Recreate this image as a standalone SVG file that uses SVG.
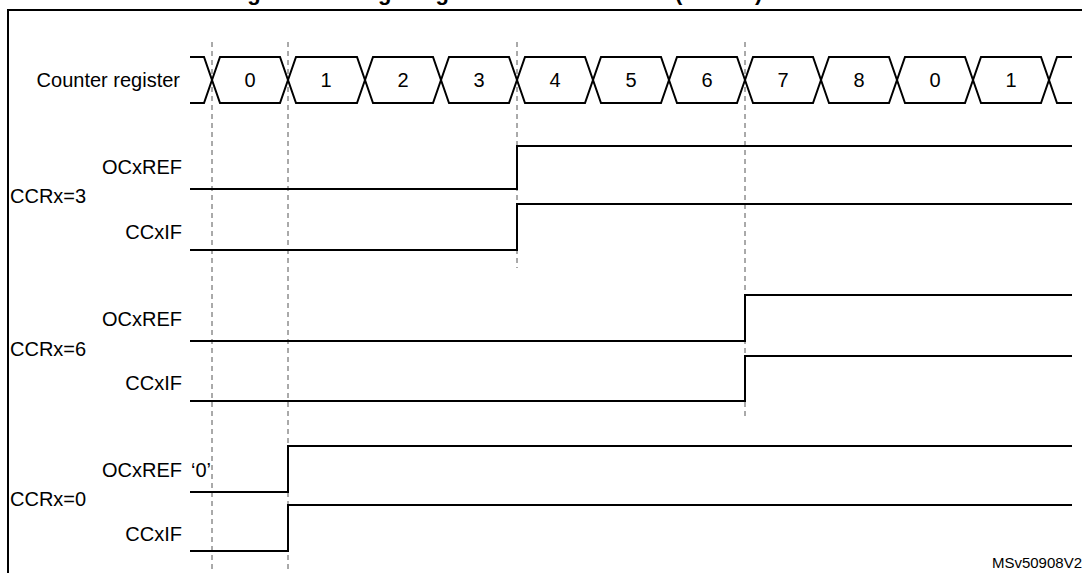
<svg xmlns="http://www.w3.org/2000/svg" width="1082" height="573" viewBox="0 0 1082 573">
<style>
text{font-family:"Liberation Sans",Arial,sans-serif;font-size:20px;fill:#000}
.r{text-anchor:end}.c{text-anchor:middle}
.s{fill:none;stroke:#000;stroke-width:2}
.d{fill:none;stroke:#555;stroke-width:1;stroke-dasharray:5,4}
</style>
<rect width="1082" height="573" fill="#fff"/>
<text x="495" y="0" class="c" style="font-weight:bold;font-size:22px">Figure 106. Edge-aligned PWM waveforms (ARR=8)</text>
<rect x="8" y="10" width="1090" height="580" fill="none" stroke="#000" stroke-width="2"/>
<g id="guides">
<line class="d" x1="212" y1="42" x2="212" y2="573"/>
<line class="d" x1="288" y1="42" x2="288" y2="573"/>
<line class="d" x1="517" y1="42" x2="517" y2="268"/>
<line class="d" x1="745" y1="42" x2="745" y2="418"/>
</g>
<g id="counter">
<text x="180" y="87" class="r">Counter register</text>
<path class="s" d="M190,57H204L220,103H280L296,57H357L373,103H433L449,57H509L525,103H585L601,57H661L677,103H737L753,57H813L829,103H889L905,57H965L981,103H1041L1057,57H1072"/>
<path class="s" d="M190,103H204L220,57H280L296,103H357L373,57H433L449,103H509L525,57H585L601,103H661L677,57H737L753,103H813L829,57H889L905,103H965L981,57H1041L1057,103H1072"/>
<text x="250" y="87" class="c">0</text><text x="326" y="87" class="c">1</text><text x="403" y="87" class="c">2</text><text x="479" y="87" class="c">3</text><text x="555" y="87" class="c">4</text><text x="631" y="87" class="c">5</text><text x="707" y="87" class="c">6</text><text x="783" y="87" class="c">7</text><text x="859" y="87" class="c">8</text><text x="935" y="87" class="c">0</text><text x="1011" y="87" class="c">1</text>
</g>
<g id="ccr3">
<text x="182" y="174" class="r">OCxREF</text><text x="10" y="203">CCRx=3</text><text x="182" y="239" class="r">CCxIF</text>
<path class="s" d="M190,189H517V146H1072"/><path class="s" d="M190,250H517V204H1072"/>
</g>
<g id="ccr6">
<text x="182" y="326" class="r">OCxREF</text><text x="10" y="356">CCRx=6</text><text x="182" y="390" class="r">CCxIF</text>
<path class="s" d="M190,341H745V295H1072"/><path class="s" d="M190,401H745V356H1072"/>
</g>
<g id="ccr0">
<text x="182" y="477" class="r">OCxREF</text><text x="191" y="477">‘0’</text><text x="10" y="506">CCRx=0</text><text x="182" y="541" class="r">CCxIF</text>
<path class="s" d="M190,492H288V446H1072"/><path class="s" d="M190,551H288V505H1072"/>
</g>
<text x="1082" y="568" class="r" style="font-size:15px">MSv50908V2</text>
</svg>
